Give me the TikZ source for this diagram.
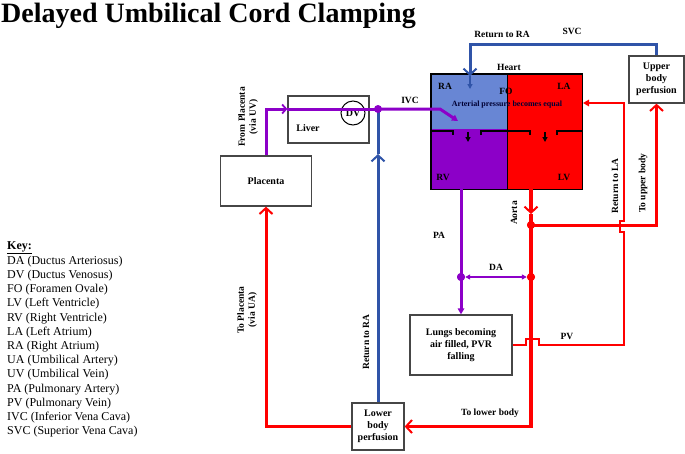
\documentclass[tikz,border=0pt]{standalone}
\usepackage{fontspec}
\setmainfont{Liberation Serif}
\usetikzlibrary{arrows.meta}
\definecolor{cred}{RGB}{255,0,0}
\definecolor{cpur}{RGB}{140,0,200}
\definecolor{cblue}{RGB}{48,84,168}
\definecolor{cra}{RGB}{104,134,212}
\definecolor{cbox}{RGB}{70,70,70}
\begin{document}
\begin{tikzpicture}[x=1pt,y=-1pt,
  box/.style={draw=cbox,line width=1.3pt,fill=white,align=center,inner sep=0pt,font=\bfseries\fontsize{10}{12}\selectfont},
  lbl/.style={font=\bfseries\fontsize{9.5}{11}\selectfont,inner sep=0pt,align=center},
  chamber/.style={draw=none,inner sep=0pt,anchor=north west},
  dot/.style={circle,fill=#1,inner sep=0pt,minimum size=8pt},
  redl/.style={draw=cred,line width=3pt},
  purl/.style={draw=cpur,line width=3pt},
  bluel/.style={draw=cblue,line width=3pt},
  vee/.style={-{Straight Barb[length=6pt,width=13pt,line width=2pt]}},
  tri/.style={-{Triangle[length=6pt,width=6.5pt]}},
  keyl/.style={anchor=base west,inner sep=0pt,font=\fontsize{12}{13}\selectfont}
]
\useasboundingbox (0,0) rectangle (685,453);

% title
\node[anchor=base west,inner sep=0pt,font=\bfseries\fontsize{28}{30}\selectfont] (title) at (1,22) {Delayed Umbilical Cord Clamping};

% key
\node[keyl,font=\bfseries\fontsize{12}{13}\selectfont] (key) at (7,249) {\underline{Key:}};
\foreach \t [count=\i] in {DA (Ductus Arteriosus),DV (Ductus Venosus),FO (Foramen Ovale),LV (Left Ventricle),RV (Right Ventricle),LA (Left Atrium),RA (Right Atrium),UA (Umbilical Artery),UV (Umbilical Vein),PA (Pulmonary Artery),PV (Pulmonary Vein),IVC (Inferior Vena Cava),SVC (Superior Vena Cava)}
  \node[keyl] (key\i) at (7,250+14.2*\i) {\t};

% heart chambers
\node[chamber,fill=cra,minimum width=76pt,minimum height=55pt] (RA) at (431,74) {};
\node[chamber,fill=cred,minimum width=75pt,minimum height=55pt] (LA) at (507,74) {};
\node[chamber,fill=cpur,minimum width=76pt,minimum height=60pt] (RV) at (431,129) {};
\node[chamber,fill=cred,minimum width=75pt,minimum height=60pt] (LV) at (507,129) {};
\draw[black,line width=1.5pt] (RA.north west) rectangle (LV.south east);
\draw[black,line width=1.5pt] (RA.north east) -- (RV.south east);
\draw[black,line width=1.5pt] (431,131) -- (453,131) -- (453,135);
\draw[black,line width=1.5pt] (481,135) -- (481,131) -- (530,131) -- (530,135);
\draw[black,line width=1.5pt] (557,135) -- (557,131) -- (582,131);
\coordinate (v1a) at (468,132); \coordinate (v1b) at (468,142);
\coordinate (v2a) at (545,132); \coordinate (v2b) at (545,142);
\draw[black,line width=1.3pt,-{Triangle[length=5pt,width=5pt]}] (v1a) -- (v1b);
\draw[black,line width=1.3pt,-{Triangle[length=5pt,width=5pt]}] (v2a) -- (v2b);

\node[lbl] (heart) at (509,67) {Heart};
\node[lbl] (tRA) at (445,86) {RA};
\node[lbl] (tFO) at (506,91) {FO};
\node[lbl] (tLA) at (564,86) {LA};
\node[lbl] (tRV) at (443,177) {RV};
\node[lbl] (tLV) at (564,177) {LV};
\node[inner sep=0pt,text=black!80!blue,font=\bfseries\fontsize{8}{9}\selectfont] (apeq) at (507,105) {Arterial pressure becomes equal};

% boxes
\node[box,minimum width=91pt,minimum height=50pt] (placenta) at (266,181) {Placenta};
\node[box,minimum width=81pt,minimum height=47pt] (liver) at (328.5,119.5) {};
\node[lbl,font=\bfseries\fontsize{10}{11}\selectfont] (tliver) at (308,128) {Liver};
\node[circle,draw=black,line width=1pt,minimum size=24pt,inner sep=0pt,font=\bfseries\fontsize{10}{11}\selectfont] (DV) at (353,113) {DV};
\node[box,minimum width=55pt,minimum height=47pt] (upper) at (656.5,79.5) {Upper\\body\\perfusion};
\node[box,minimum width=102pt,minimum height=60pt] (lungs) at (461,345) {Lungs becoming\\air filled, PVR\\falling};
\node[box,minimum width=52pt,minimum height=47pt] (lower) at (378,426.5) {Lower\\body\\perfusion};

% coordinates
\coordinate (j1) at (378,109);
\coordinate (ivc1) at (440,109);
\coordinate (ivcend) at (458,121);
\coordinate (bl1) at (378,154);
\coordinate (svc1) at (470,44);
\coordinate (svc2) at (470,76);
\coordinate (svc3) at (470,89);
\coordinate (ao0) at (531,189);
\coordinate (ao1) at (531,214);
\coordinate (pa0) at (461,189);
\coordinate (laIn) at (583,103);

% IVC (purple) from placenta
\draw[purl,-{Straight Barb[length=4pt,width=9pt,line width=1.8pt]}] (placenta.north) |- (liver.west |- j1);
\draw[purl] (liver.west |- j1) -- (j1);
% blue return to RA from lower body
\draw[bluel,vee] (lower.north) -- (bl1);
\draw[bluel] (bl1) -- (j1);
\draw[purl,tri] (j1) -- (ivc1) -- (ivcend);
\node[dot=cpur] (dj1) at (j1) {};
\node[lbl] (tIVC) at (410,100) {IVC};

% SVC
\draw[bluel,vee] (upper.north) |- (svc1) -- (svc2);
\draw[cblue,line width=2pt,-{Triangle[length=5pt,width=5pt]}] (svc2) -- (svc3);
\node[lbl] (tRetRA1) at (502,34) {Return to RA};
\node[lbl] (tSVC) at (572,31) {SVC};

% aorta
\node[dot=cred] (d1) at (531,225) {};
\node[dot=cred] (d2) at (531,277) {};
\node[dot=cpur] (d3) at (461,277) {};
\draw[redl,line width=3.5pt,vee] (ao0) -- (ao1);
\draw[redl,line width=3.5pt] (ao1) -- (d1.center) -- (d2.center);
\draw[redl,line width=3.5pt,vee] (d2.center) |- (lower.east);
\draw[redl,vee] (d1.center) -| (upper.south);
\draw[redl,vee] (lower.west) -| (placenta.south);

% PA
\draw[purl,tri] (pa0) -- (d3.center) -- (lungs.north);
% DA
\draw[cpur,line width=2pt,{Triangle[length=5pt,width=5pt]}-{Triangle[length=5pt,width=5pt]}] (d3) -- (d2);
\node[dot=cred] (d1b) at (d1) {};
\node[dot=cred] (d2b) at (d2) {};
\node[dot=cpur] (d3b) at (d3) {};

% PV / return to LA
\draw[redl,line width=2.5pt,tri] (lungs.east) -- (526,345) -- (526,339) -- (539,339) -- (539,345) -- (624,345) -- (624,232) -- (620,232) -- (620,221) -- (624,221) -- (624,103) -- (laIn);

% labels
\node[lbl] (tPA) at (439,235) {PA};
\node[lbl] (tDA) at (496,267) {DA};
\node[lbl] (tPV) at (567,336) {PV};
\node[lbl,rotate=90] (tAorta) at (514,213) {Aorta};
\node[lbl] (tLower) at (490,413) {To lower body};
\node[lbl,rotate=90] (tRetLA) at (615,186) {Return to LA};
\node[lbl,rotate=90] (tUpper) at (643,183) {To upper body};
\node[lbl,rotate=90] (tRetRA2) at (366,342) {Return to RA};
\node[lbl,rotate=90] (tToPl) at (247,310) {To Placenta\\(via UA)};
\node[lbl,rotate=90] (tFromPl) at (248,117) {From Placenta\\(via UV)};
\end{tikzpicture}
\end{document}
